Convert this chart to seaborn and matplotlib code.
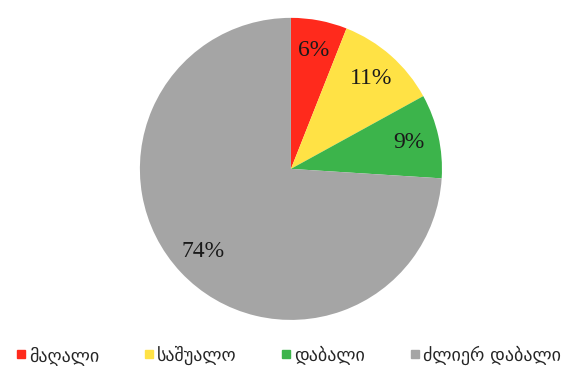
import seaborn as sns
import matplotlib.pyplot as plt
from matplotlib.lines import Line2D

# Data

labels = ["მაღალი", "საშუალო", "დაბალი", "ძლიერ დაბალი"]
shares = [6, 11, 9, 74]
colors = ["#FF2A1C", "#FFE245", "#3CB44B", "#A5A5A5"]

sns.set_theme(style="white")
plt.rcParams["font.family"] = ["DejaVu Sans"]

fig = plt.figure(figsize=(5.66, 3.72), dpi=100)
ax = fig.add_axes([0.247, 0.140, 0.534, 0.812])

wedges, texts, autotexts = ax.pie(
    shares,
    colors=sns.color_palette(colors),
    startangle=90,
    counterclock=False,
    autopct="%1.0f%%",
    pctdistance=0.8,
    wedgeprops={"linewidth": 0},
    textprops={"family": "Liberation Serif", "fontsize": 17, "color": "#1a1a1a"},
)

ax.set_xlim(-1, 1)
ax.set_ylim(-1, 1)
ax.set_aspect("equal")

# Legend along the bottom

handles = [
    Line2D([0], [0], marker="s", linestyle="", markersize=6,
           markerfacecolor=c, markeredgecolor=c)
    for c in colors
]
fig.legend(
    handles, labels,
    loc="center", bbox_to_anchor=(0.51, 0.045),
    ncol=4, frameon=False, fontsize=13,
    handlelength=0.5, handletextpad=0.2, columnspacing=2.5,
)

plt.savefig("out.png", dpi=100)
